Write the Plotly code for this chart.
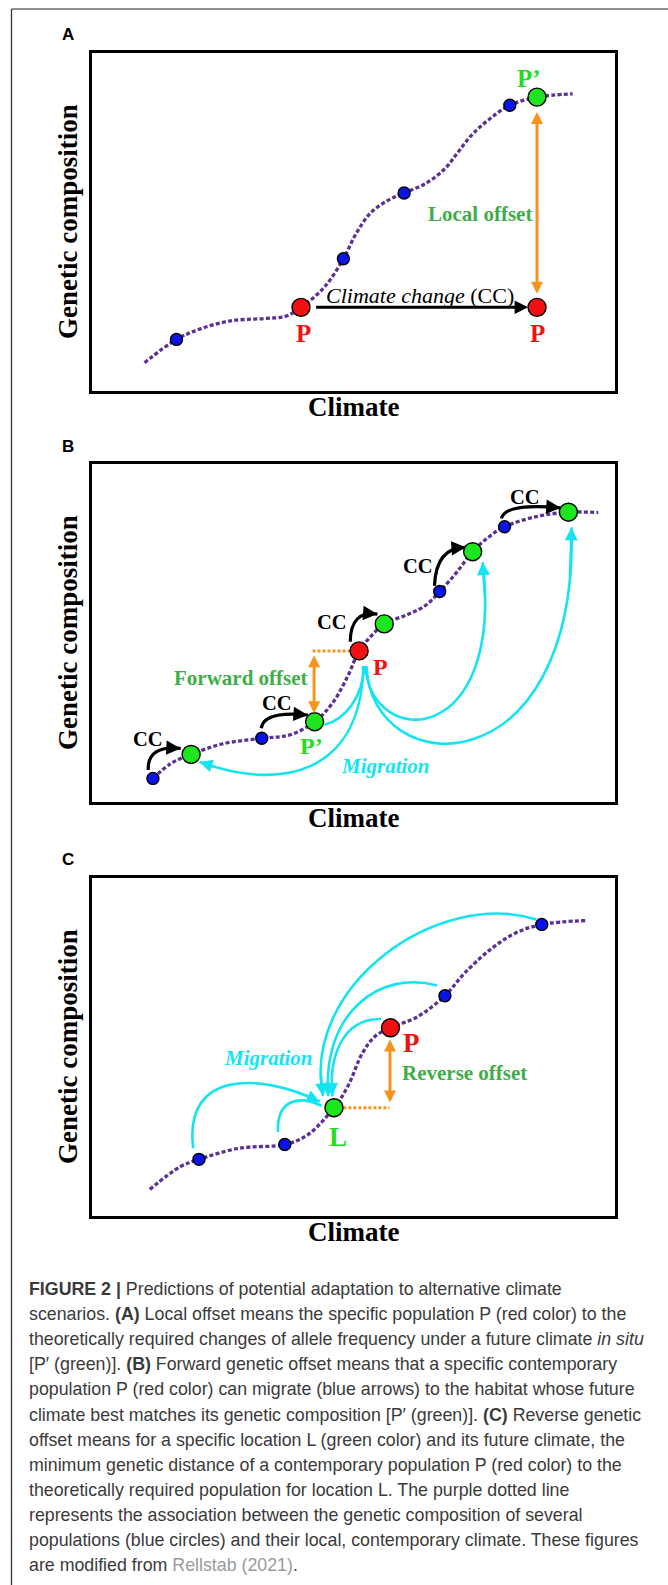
import plotly.graph_objects as go

SERIF = "Liberation Serif, Times New Roman, serif"
SANS = "Liberation Sans, Arial, sans-serif"
PURPLE = "#5b3196"
BLUE = "#0a14e6"
RED = "#f01212"
GREEN = "#1ee61e"
CYAN = "#14e4f2"
ORANGE = "#f7941d"
TXTGREEN = "#3fae49"
LIME = "#22dd22"

# ---------------- Panel A data ----------------
a_curve_x = [10.1, 16.2, 20.9, 26.5, 33.0, 37.1, 40.0, 44.4, 48.1, 50.5, 53.3, 56.6, 59.7,
             63.9, 67.5, 70.0, 72.8, 76.1, 79.9, 85.1, 91.9]
a_curve_y = [8.3, 15.2, 18.4, 20.7, 21.4, 22.1, 24.7, 30.6, 39.1, 46.5, 52.7, 56.4, 58.6,
             61.5, 65.8, 70.7, 76.1, 80.6, 84.6, 87.0, 88.0]
a_blue_x = [16.2, 48.1, 59.7, 79.9]
a_blue_y = [15.2, 39.1, 58.6, 84.6]
a_red_x = [40.0, 85.1]
a_red_y = [24.7, 24.7]
a_green_x = [85.1]
a_green_y = [87.0]

# ---------------- Panel B data ----------------
b_curve_x = [11.7, 15.2, 19.0, 24.9, 32.5, 37.9, 42.6, 46.0, 48.9, 51.1, 53.3, 55.9, 60.6,
             63.9, 66.5, 69.6, 72.8, 76.0, 78.9, 85.0, 91.1, 96.8]
b_curve_y = [6.9, 11.4, 14.0, 17.1, 18.8, 19.8, 23.7, 29.2, 37.1, 44.7, 48.9, 52.7, 55.6,
             58.3, 62.3, 67.7, 74.1, 78.6, 81.5, 84.5, 85.8, 85.7]
b_blue_x = [11.7, 32.5, 66.5, 78.9]
b_blue_y = [6.9, 18.8, 62.3, 81.5]
b_green_x = [19.0, 42.6, 55.9, 72.8, 91.1]
b_green_y = [14.0, 23.7, 52.7, 74.1, 85.8]
b_red_x = [51.1]
b_red_y = [44.7]
# climate-change arrows: start, control, tip
b_cc_start = [(10.8, 9.4), (32.4, 21.8), (49.4, 47.4), (65.5, 64.0), (78.3, 84.0)]
b_cc_ctrl = [(10.6, 16.8), (32.9, 27.0), (49.5, 56.8), (65.8, 75.5), (79.0, 88.6)]
b_cc_tip = [(17.0, 15.8), (41.3, 25.7), (54.6, 55.6), (71.5, 75.4), (89.6, 87.1)]
b_cc_label = [(10.8, 18.6), (35.4, 29.3), (45.9, 53.2), (62.4, 70.0), (82.8, 90.3)]
# migration arrows (cubic): start, c1, c2, tip
b_mig_start = [(51.9, 40.2), (52.1, 40.2), (52.3, 40.2), (52.5, 40.2)]
b_mig_c1 = [(51.5, 8.0), (51.8, 31.0), (53.5, 15.0), (53.5, 5.0)]
b_mig_c2 = [(36.0, 3.0), (48.5, 24.5), (79.0, 16.0), (93.0, 4.0)]
b_mig_tip = [(20.6, 11.8), (44.5, 22.8), (74.7, 71.0), (91.7, 81.3)]

# ---------------- Panel C data ----------------
c_curve_x = [11.1, 16.9, 20.5, 28.2, 36.9, 41.2, 46.3, 48.9, 51.7, 54.1, 57.1, 62.3, 67.5,
             71.2, 76.1, 80.9, 86.0, 94.7]
c_curve_y = [7.8, 14.5, 16.7, 20.0, 21.1, 23.9, 32.0, 38.2, 48.1, 53.1, 55.7, 59.0, 65.2,
             71.8, 78.8, 83.7, 86.3, 87.5]
c_blue_x = [20.5, 36.9, 67.5, 86.0]
c_blue_y = [16.7, 21.1, 65.2, 86.3]
c_green_x = [46.3]
c_green_y = [32.0]
c_red_x = [57.1]
c_red_y = [55.7]
c_mig_start = [(19.4, 20.0), (35.6, 24.8), (55.3, 58.3), (66.0, 68.2), (85.0, 87.8)]
c_mig_c1 = [(17.5, 43.0), (35.3, 35.0), (47.5, 58.5), (55.0, 73.0), (66.0, 97.0)]
c_mig_c2 = [(32.0, 42.5), (40.0, 35.5), (45.3, 46.0), (44.0, 60.0), (40.0, 68.0)]
c_mig_tip = [(43.6, 33.8), (43.9, 32.6), (46.0, 35.4), (45.2, 35.4), (44.2, 35.4)]

caption_lines = [
    "<b>FIGURE 2 |</b> Predictions of potential adaptation to alternative climate",
    "scenarios. <b>(A)</b> Local offset means the specific population P (red color) to the",
    "theoretically required changes of allele frequency under a future climate <i>in situ</i>",
    "[P′ (green)]. <b>(B)</b> Forward genetic offset means that a specific contemporary",
    "population P (red color) can migrate (blue arrows) to the habitat whose future",
    "climate best matches its genetic composition [P′ (green)]. <b>(C)</b> Reverse genetic",
    "offset means for a specific location L (green color) and its future climate, the",
    "minimum genetic distance of a contemporary population P (red color) to the",
    "theoretically required population for location L. The purple dotted line",
    "represents the association between the genetic composition of several",
    "populations (blue circles) and their local, contemporary climate. These figures",
    "are modified from <span style='color:#9a9a9a'>Rellstab (2021)</span>.",
]

W, H = 668, 1585
BOX_L, BOX_R = 91.7, 615.0
boxes = {"A": (53.3, 390.7), "B": (464.3, 801.7), "C": (878.3, 1215.7)}
letters_y = {"A": 34, "B": 446, "C": 859}

fig = go.Figure()
shapes = []
annos = []

axis_ids = {"A": ("x", "y"), "B": ("x2", "y2"), "C": ("x3", "y3")}


def add_curve(p, cx, cy):
    xr, yr = axis_ids[p]
    fig.add_trace(go.Scatter(x=cx, y=cy, mode="lines", xaxis=xr, yaxis=yr, hoverinfo="skip",
                             line=dict(color=PURPLE, width=3.3, dash="4px,2.3px", shape="spline",
                                       smoothing=1.0)))


def add_pts(p, px, py, color, size):
    xr, yr = axis_ids[p]
    fig.add_trace(go.Scatter(x=px, y=py, mode="markers", xaxis=xr, yaxis=yr, hoverinfo="skip",
                             marker=dict(color=color, size=size, line=dict(color="black", width=1.4))))


def bez(pts, t):
    if len(pts) == 3:
        (x0, y0), (x1, y1), (x2, y2) = pts
        u = 1 - t
        return (u * u * x0 + 2 * u * t * x1 + t * t * x2, u * u * y0 + 2 * u * t * y1 + t * t * y2)
    (x0, y0), (x1, y1), (x2, y2), (x3, y3) = pts
    u = 1 - t
    return (u ** 3 * x0 + 3 * u * u * t * x1 + 3 * u * t * t * x2 + t ** 3 * x3,
            u ** 3 * y0 + 3 * u * u * t * y1 + 3 * u * t * t * y2 + t ** 3 * y3)


def curved_arrow(p, pts, color, width, head, hsize, tail_t=0.88):
    xr, yr = axis_ids[p]
    if len(pts) == 3:
        path = "M{},{} Q{},{} {},{}".format(*pts[0], *pts[1], *pts[2])
    else:
        path = "M{},{} C{},{} {},{} {},{}".format(*pts[0], *pts[1], *pts[2], *pts[3])
    shapes.append(dict(type="path", path=path, xref=xr, yref=yr, layer="below",
                       line=dict(color=color, width=width)))
    tx, ty = bez(pts, tail_t)
    tip = pts[-1]
    annos.append(dict(x=tip[0], y=tip[1], ax=tx, ay=ty, xref=xr, yref=yr, axref=xr, ayref=yr,
                      text="", showarrow=True, arrowhead=head, arrowsize=hsize,
                      arrowwidth=width, arrowcolor=color, standoff=0))


def straight_arrow(p, x0, y0, x1, y1, color, width, head, hsize, side="end"):
    xr, yr = axis_ids[p]
    annos.append(dict(x=x1, y=y1, ax=x0, ay=y0, xref=xr, yref=yr, axref=xr, ayref=yr,
                      text="", showarrow=True, arrowhead=head, startarrowhead=head,
                      arrowsize=hsize, startarrowsize=hsize, arrowside=side,
                      arrowwidth=width, arrowcolor=color, standoff=0, startstandoff=0))


def label(p, x, y, text, size, color, bold=True, italic=False, xanchor="center"):
    xr, yr = axis_ids[p]
    t = text
    if bold:
        t = "<b>" + t + "</b>"
    if italic:
        t = "<i>" + t + "</i>"
    annos.append(dict(x=x, y=y, xref=xr, yref=yr, text=t, showarrow=False, xanchor=xanchor,
                      yanchor="middle", font=dict(family=SERIF, size=size, color=color)))


def hdash(p, x0, x1, y):
    xr, yr = axis_ids[p]
    fig.add_trace(go.Scatter(x=[x0, x1], y=[y, y], mode="lines", xaxis=xr, yaxis=yr,
                             hoverinfo="skip", line=dict(color=ORANGE, width=3, dash="3px,2px")))


# ---------- Panel A ----------
add_curve("A", a_curve_x, a_curve_y)
straight_arrow("A", 42.6, 24.7, 83.4, 24.7, "black", 3, 2, 0.9)
straight_arrow("A", a_red_x[1], 28.3, a_red_x[1], 82.6, ORANGE, 3, 2, 0.8, side="end+start")
add_pts("A", a_blue_x, a_blue_y, BLUE, 12)
add_pts("A", a_red_x, a_red_y, RED, 18)
add_pts("A", a_green_x, a_green_y, GREEN, 18)
annos.append(dict(x=62.7, y=28.2, xref="x", yref="y", showarrow=False,
                  text="<i>Climate change</i> (CC)",
                  font=dict(family=SERIF, size=22, color="black")))
label("A", 74.2, 52.3, "Local offset", 21, TXTGREEN)
label("A", 40.5, 17.0, "P", 25, RED)
label("A", 85.2, 17.0, "P", 25, RED)
label("A", 83.6, 92.6, "P’", 25, LIME)

# ---------- Panel B ----------
add_curve("B", b_curve_x, b_curve_y)
for s, c, t in zip(b_cc_start, b_cc_ctrl, b_cc_tip):
    curved_arrow("B", [s, c, t], "black", 3.2, 2, 0.9)
for s, c1, c2, t in zip(b_mig_start, b_mig_c1, b_mig_c2, b_mig_tip):
    curved_arrow("B", [s, c1, c2, t], CYAN, 2.6, 2, 1.0, tail_t=0.93)
hdash("B", 42.2, 49.7, 44.7)
straight_arrow("B", 42.5, 25.8, 42.5, 43.4, ORANGE, 3, 2, 0.8, side="end+start")
add_pts("B", b_blue_x, b_blue_y, BLUE, 12)
add_pts("B", b_green_x, b_green_y, GREEN, 18)
add_pts("B", b_red_x, b_red_y, RED, 18)
for (lx, ly) in b_cc_label:
    label("B", lx, ly, "CC", 20.5, "black")
label("B", 28.5, 36.6, "Forward offset", 21, TXTGREEN)
label("B", 55.2, 40.0, "P", 24, RED)
label("B", 42.0, 16.4, "P’", 24, LIME)
label("B", 56.2, 10.7, "Migration", 21, CYAN, bold=True, italic=True)

# ---------- Panel C ----------
add_curve("C", c_curve_x, c_curve_y)
for s, c1, c2, t in zip(c_mig_start, c_mig_c1, c_mig_c2, c_mig_tip):
    curved_arrow("C", [s, c1, c2, t], CYAN, 2.6, 2, 1.0, tail_t=0.93)
hdash("C", 48.1, 56.9, 32.0)
straight_arrow("C", 57.0, 33.1, 57.0, 52.2, ORANGE, 3, 2, 0.8, side="end+start")
add_pts("C", c_blue_x, c_blue_y, BLUE, 12)
add_pts("C", c_green_x, c_green_y, GREEN, 18)
add_pts("C", c_red_x, c_red_y, RED, 18)
label("C", 61.1, 51.3, "P", 27, RED)
label("C", 47.1, 23.2, "L", 27, LIME)
label("C", 71.2, 42.4, "Reverse offset", 21, TXTGREEN)
label("C", 33.8, 46.8, "Migration", 21, CYAN, bold=True, italic=True)

# ---------- axes ----------
layout_axes = {}
for i, p in enumerate(["A", "B", "C"]):
    top, bot = boxes[p]
    sfx = "" if i == 0 else str(i + 1)
    ax_common = dict(showgrid=False, zeroline=False, showticklabels=False, ticks="",
                     showline=True, mirror=True, linecolor="black", linewidth=3,
                     range=[0, 100], fixedrange=True)
    layout_axes["xaxis" + sfx] = dict(domain=[BOX_L / W, BOX_R / W], anchor="y" + sfx, **ax_common)
    layout_axes["yaxis" + sfx] = dict(domain=[1 - bot / H, 1 - top / H], anchor="x" + sfx, **ax_common)
    annos.append(dict(x=68 / W, y=1 - (top + bot) / 2 / H, xref="paper", yref="paper",
                      text="<b>Genetic composition</b>", textangle=-90, showarrow=False,
                      xanchor="center", yanchor="middle",
                      font=dict(family=SERIF, size=27, color="black")))
    annos.append(dict(x=(BOX_L + BOX_R) / 2 / W, y=1 - (bot + 16) / H, xref="paper", yref="paper",
                      text="<b>Climate</b>", showarrow=False, xanchor="center", yanchor="middle",
                      font=dict(family=SERIF, size=27, color="black")))
    annos.append(dict(x=68 / W, y=1 - letters_y[p] / H, xref="paper", yref="paper",
                      text="<b>" + p + "</b>", showarrow=False, xanchor="center", yanchor="middle",
                      font=dict(family=SANS, size=17, color="black")))

# caption
for k, line in enumerate(caption_lines):
    annos.append(dict(x=26.5 / W, y=1 - (1289 + 25.1 * k) / H, xref="paper", yref="paper",
                      text=line, showarrow=False, xanchor="left", yanchor="middle",
                      font=dict(family=SANS, size=17.8, color="#3a3a3a")))

# outer frame (left and top rules)
shapes.append(dict(type="line", xref="paper", yref="paper", x0=11.5 / W, x1=1, y0=1 - 9 / H, y1=1 - 9 / H,
                   line=dict(color="#6a6a6a", width=1.3)))
shapes.append(dict(type="line", xref="paper", yref="paper", x0=11.5 / W, x1=11.5 / W, y0=0, y1=1 - 9 / H,
                   line=dict(color="#333333", width=1.3)))

fig.update_layout(width=W, height=H, margin=dict(l=0, r=0, t=0, b=0), showlegend=False,
                  paper_bgcolor="white", plot_bgcolor="rgba(0,0,0,0)",
                  shapes=shapes, annotations=annos, **layout_axes)

fig.write_html("out.html", config={"displayModeBar": False},
               post_script="document.body.style.margin='0px';")
